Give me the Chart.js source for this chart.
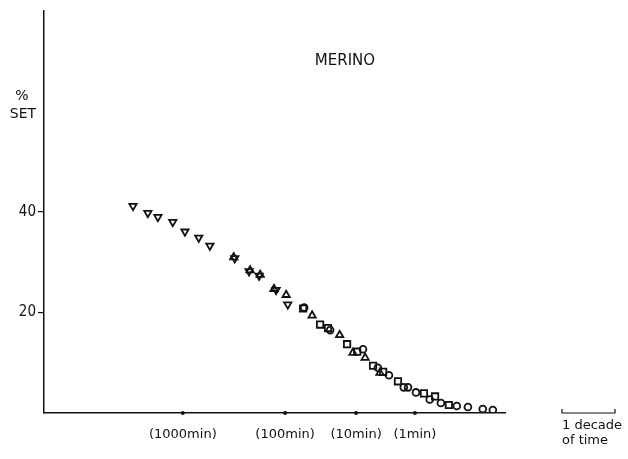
<!DOCTYPE html>
<html>
<head>
<meta charset="utf-8">
<script src="https://cdn.jsdelivr.net/npm/chart.js@4/dist/chart.umd.min.js"></script>
<style>
  html, body { margin: 0; padding: 0; background: #fff; }
  canvas { display: block; }
</style>
</head>
<body>
<canvas id="chart-set" width="628" height="459"></canvas>
<script>
// x in decades of (shifted) log time, y in % set
const downTriX = [1.68, 1.96, 2.15, 2.43, 2.66, 2.92, 3.13, 3.60, 3.87, 4.06, 4.38, 4.60];
const downTriY = [41.2, 39.8, 39.0, 38.0, 36.1, 34.9, 33.3, 30.8, 28.2, 27.3, 24.5, 21.6];

const upTriX = [3.58, 3.89, 4.08, 4.34, 4.57, 5.06, 5.58, 5.83, 6.06, 6.34];
const upTriY = [31.0, 28.4, 27.5, 24.7, 23.5, 19.4, 15.5, 12.0, 11.0, 8.0];

const squareX = [4.89, 5.21, 5.36, 5.72, 5.91, 6.21, 6.40, 6.68, 7.17, 7.38, 7.64];
const squareY = [20.8, 17.6, 16.9, 13.7, 12.2, 9.4, 8.2, 6.3, 3.9, 3.3, 1.6];

const circleX = [4.91, 5.40, 6.02, 6.30, 6.51, 6.79, 6.87, 7.02, 7.28, 7.49, 7.79, 8.00, 8.28, 8.47];
const circleY = [21.0, 16.5, 12.7, 9.0, 7.5, 5.1, 5.1, 4.1, 2.7, 2.0, 1.4, 1.2, 0.8, 0.6];

const timeTicks = [2.62, 4.55, 5.89, 7.0];
const timeLabels = ['(1000min)', '(100min)', '(10min)', '(1min)'];
const setTicks = [20, 40];

const INK = '#111';
const FONT = 'DejaVu Sans';
const NARROW = "'Liberation Sans Narrow', 'DejaVu Sans Condensed', 'Liberation Sans'";

function pts(xs, ys) {
    return xs.map((x, i) => ({x: x, y: ys[i]}));
}

function series(label, xs, ys, style, radius, rotation) {
    return {
        label: label,
        data: pts(xs, ys),
        pointStyle: style,
        pointRadius: radius,
        pointRotation: rotation || 0,
        pointBorderWidth: 1.8,
        borderColor: INK,
        backgroundColor: 'rgba(0,0,0,0)',
        showLine: false
    };
}

// annotations: title, y label, tick dots, decade scale bar
const pluginExtras = {
    id: 'extras',
    afterDraw: (chart) => {
        const {ctx, scales: {x, y}} = chart;
        ctx.save();
        ctx.fillStyle = INK;
        ctx.strokeStyle = INK;

        ctx.font = '15px ' + FONT;
        ctx.textAlign = 'center';
        ctx.textBaseline = 'alphabetic';
        ctx.fillText('MERINO', 345, 65);

        ctx.font = '14px ' + FONT;
        ctx.fillText('%', 22, 100);
        ctx.fillText('SET', 23, 118);

        // dots on the time axis
        const y0 = y.getPixelForValue(0);
        timeTicks.forEach(t => {
            ctx.beginPath();
            ctx.arc(x.getPixelForValue(t), y0, 2, 0, Math.PI * 2);
            ctx.fill();
        });

        // one decade bar
        const bx0 = 562;
        const bx1 = bx0 + (x.getPixelForValue(1) - x.getPixelForValue(0));
        ctx.lineWidth = 1.2;
        ctx.beginPath();
        ctx.moveTo(bx0, y0 - 4);
        ctx.lineTo(bx0, y0);
        ctx.lineTo(bx1, y0);
        ctx.lineTo(bx1, y0 - 4);
        ctx.stroke();
        ctx.font = '13px ' + FONT;
        ctx.textAlign = 'left';
        ctx.fillText('1 decade', bx0, 429);
        ctx.fillText('of time', bx0, 444);
        ctx.restore();
    }
};

const pluginCanvasBackgroundColor = {
    id: 'customCanvasBackgroundColor',
    beforeDraw: (chart) => {
        const {ctx} = chart;
        ctx.save();
        ctx.globalCompositeOperation = 'destination-over';
        ctx.fillStyle = '#fff';
        ctx.fillRect(0, 0, chart.width, chart.height);
        ctx.restore();
    }
};

const ctx = document.getElementById('chart-set');
const myChart = new Chart(ctx, {
    type: 'scatter',
    data: {
        datasets: [
            series('down', downTriX, downTriY, 'triangle', 4.2, 180),
            series('up', upTriX, upTriY, 'triangle', 4.2, 0),
            series('square', squareX, squareY, 'rect', 4.5),
            series('circle', circleX, circleY, 'circle', 3.4)
        ]
    },
    options: {
        responsive: false,
        animation: false,
        layout: {padding: {top: 5, right: 123, left: 0, bottom: 0}},
        plugins: {
            legend: {display: false},
            tooltip: {enabled: false}
        },
        scales: {
            x: {
                type: 'linear',
                min: 0,
                max: 8.7,
                afterFit: (scale) => { scale.height = 46; },
                afterBuildTicks: (scale) => {
                    scale.ticks = timeTicks.map(v => ({value: v}));
                },
                border: {color: INK, width: 1.5},
                grid: {display: false},
                ticks: {
                    autoSkip: false,
                    maxRotation: 0,
                    padding: 6,
                    color: INK,
                    font: {family: FONT, size: 13},
                    callback: (value, index) => timeLabels[index]
                }
            },
            y: {
                type: 'linear',
                min: 0,
                max: 80,
                afterFit: (scale) => { scale.width = 44; },
                afterBuildTicks: (scale) => {
                    scale.ticks = setTicks.map(v => ({value: v}));
                },
                border: {color: INK, width: 1.5},
                grid: {
                    drawOnChartArea: false,
                    drawTicks: true,
                    tickLength: 6,
                    color: INK,
                    lineWidth: 1.2
                },
                ticks: {
                    padding: 2,
                    color: INK,
                    font: {family: NARROW, size: 15}
                }
            }
        }
    },
    plugins: [pluginCanvasBackgroundColor, pluginExtras]
});
</script>
</body>
</html>
